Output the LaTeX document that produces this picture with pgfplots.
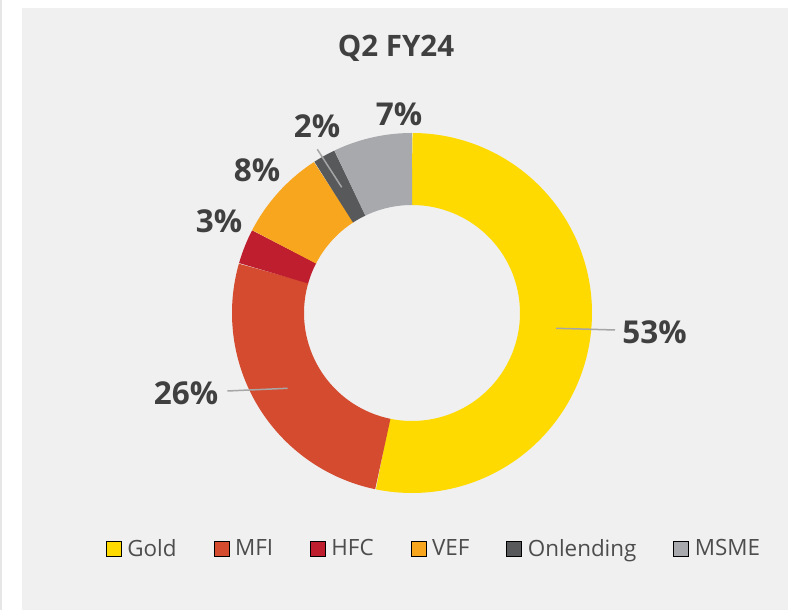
\documentclass[border=0pt]{standalone}
\usepackage{fontspec}
\setmainfont{Open Sans}
\usepackage{pgfplots}
\pgfplotsset{compat=1.18}
\definecolor{panel}{HTML}{F0F0F0}
\definecolor{edgec}{HTML}{E6E6E6}
\definecolor{goldc}{HTML}{FFDA00}
\definecolor{mfic}{HTML}{D54B2F}
\definecolor{hfcc}{HTML}{BE1E2D}
\definecolor{vefc}{HTML}{F9A61F}
\definecolor{onlc}{HTML}{58595B}
\definecolor{msmec}{HTML}{A7A9AC}
\definecolor{txt}{HTML}{404040}
\definecolor{legtxt}{HTML}{4D4D4D}
\definecolor{leader}{HTML}{A6A6A6}
\begin{document}
\begin{tikzpicture}
\fill[white] (0,0) rectangle (788pt,610pt);
\fill[edgec] (0,0) rectangle (1.5pt,610pt);
\fill[panel] (22pt,0) rectangle (788pt,602pt);
\begin{axis}[
  at={(0,0)}, anchor=origin,
  x=1pt, y=1pt, xmin=0, xmax=788, ymin=0, ymax=610,
  scale only axis, hide axis, clip=false,
  legend columns=6,
  legend image code/.code={\fill[#1] (0pt,-7.5pt) rectangle (15pt,7.5pt);},
  legend style={draw=none, fill=none, at={(axis cs:433,61.5)}, anchor=center,
    font=\fontsize{22.4}{26}\selectfont, text=legtxt,
    nodes={inner sep=0pt},
    /tikz/every odd column/.append style={column sep=6pt},
    /tikz/every even column/.append style={column sep=37pt}},
]
% donut segments: percentage ranges (cumulative), clockwise from top
\addplot[goldc, line width=72pt, line cap=butt, domain=0:53.25, samples=120, forget plot] ({412+144*sin(3.6*x)},{297+144*cos(3.6*x)});
\addplot[mfic, line width=72pt, line cap=butt, domain=53.25:79.45, samples=80, forget plot] ({412+144*sin(3.6*x)},{297+144*cos(3.6*x)});
\addplot[hfcc, line width=72pt, line cap=butt, domain=79.45:82.6, samples=20, forget plot] ({412+144*sin(3.6*x)},{297+144*cos(3.6*x)});
\addplot[vefc, line width=72pt, line cap=butt, domain=82.6:90.85, samples=40, forget plot] ({412+144*sin(3.6*x)},{297+144*cos(3.6*x)});
\addplot[onlc, line width=72pt, line cap=butt, domain=90.85:92.9, samples=15, forget plot] ({412+144*sin(3.6*x)},{297+144*cos(3.6*x)});
\addplot[msmec, line width=72pt, line cap=butt, domain=92.9:100, samples=40, forget plot] ({412+144*sin(3.6*x)},{297+144*cos(3.6*x)});
% leader lines
\addplot[leader, line width=1.5pt, forget plot] coordinates {(556,281.7) (615,280)};
\addplot[leader, line width=1.5pt, forget plot] coordinates {(227.3,219) (287.7,221.7)};
\addplot[leader, line width=1.5pt, forget plot] coordinates {(317.3,460.7) (341.7,422.7)};
% labels
\begin{scope}[every node/.style={inner sep=0pt, text=txt, font=\fontsize{31.5}{36}\selectfont\bfseries}]
\node at (axis cs:654.5,278) {53\%};
\node at (axis cs:186,217) {26\%};
\node at (axis cs:219,388.7) {3\%};
\node at (axis cs:257,440) {8\%};
\node at (axis cs:317,483.3) {2\%};
\node at (axis cs:399,496) {7\%};
\end{scope}
\node[anchor=base, inner sep=0pt, text=txt, font=\fontsize{29.5}{34}\selectfont\bfseries] at (axis cs:396,553.3) {Q2 FY24};
% legend
\addlegendimage{fill=goldc}\addlegendentry{Gold}
\addlegendimage{fill=mfic}\addlegendentry{MFI}
\addlegendimage{fill=hfcc}\addlegendentry{HFC}
\addlegendimage{fill=vefc}\addlegendentry{VEF}
\addlegendimage{fill=onlc}\addlegendentry{Onlending}
\addlegendimage{fill=msmec}\addlegendentry{MSME}
\end{axis}
\end{tikzpicture}
\end{document}
